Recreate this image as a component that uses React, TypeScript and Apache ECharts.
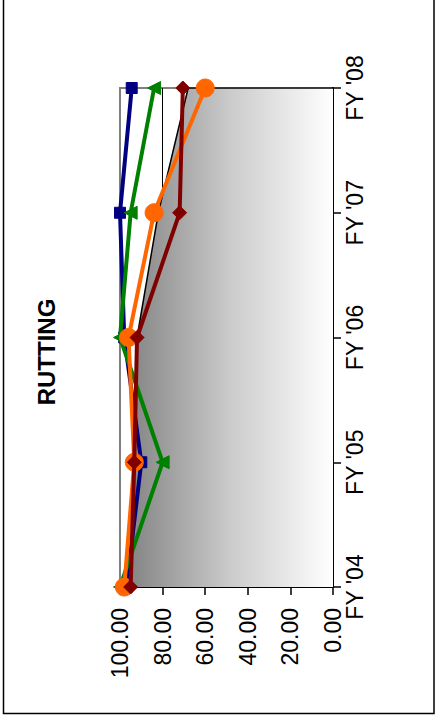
import React, { useEffect, useRef } from "react";
import * as echarts from "echarts";

const categories = ["FY '04", "FY '05", "FY '06", "FY '07", "FY '08"];
const blueValues = [97, 90, 98, 100, 94.5];
const greenValues = [100, 80, 100, 95, 84];
const orangeValues = [98, 93.3, 96, 84, 60];
const darkRedValues = [95, 93.3, 92, 72, 70.5];
const areaValues = [95, 93.5, 92, 82, 68];
const valueTicks = [0, 20, 40, 60, 80, 100];

const FONT = "'Liberation Sans', Arial, sans-serif";

export default function App() {
  const ref = useRef<HTMLDivElement>(null);
  useEffect(() => {
    if (!ref.current) return;
    const chart = echarts.init(ref.current, null, { renderer: "svg" });
    const lastCat = categories[categories.length - 1];
    const lastArea = areaValues[areaValues.length - 1];
    chart.setOption({
      animation: false,
      backgroundColor: "#ffffff",
      grid: {
        left: 120,
        right: 104,
        top: 88,
        bottom: 132,
        show: true,
        borderColor: "#808080",
        borderWidth: 2,
        backgroundColor: "transparent",
      },
      xAxis: {
        type: "value",
        min: valueTicks[0],
        max: valueTicks[valueTicks.length - 1],
        interval: 20,
        inverse: true,
        position: "bottom",
        axisLine: { show: true, onZero: false, lineStyle: { color: "#000", width: 2 } },
        axisTick: { show: true, length: 8, lineStyle: { color: "#000", width: 1.5 } },
        splitLine: {
          show: true,
          lineStyle: { color: ["#000", "#000", "#000", "#000", "#000", "#808080"], width: 1 },
        },
        axisLabel: {
          rotate: 90,
          margin: 21,
          fontSize: 23,
          fontFamily: FONT,
          color: "#000",
          formatter: (v: number) => v.toFixed(2),
        },
      },
      yAxis: {
        type: "category",
        data: categories,
        boundaryGap: false,
        position: "right",
        axisLine: { show: true, onZero: false, lineStyle: { color: "#000", width: 2 } },
        axisTick: { show: true, length: 8, alignWithLabel: true, lineStyle: { color: "#000", width: 1.5 } },
        splitLine: { show: false },
        axisLabel: {
          rotate: 90,
          margin: 10,
          fontSize: 23,
          fontFamily: FONT,
          color: "#000",
        },
      },
      series: [
        {
          name: "Area",
          type: "line",
          data: areaValues,
          symbol: "none",
          lineStyle: { color: "#000", width: 1.5 },
          areaStyle: {
            opacity: 1,
            color: new echarts.graphic.LinearGradient(0, 0, 1, 0, [
              { offset: 0, color: "#858585" },
              { offset: 0.5, color: "#cccccc" },
              { offset: 1, color: "#ffffff" },
            ]),
          },
          z: 1,
        },
        {
          name: "AreaTop",
          type: "line",
          data: [
            [lastArea, lastCat],
            [0, lastCat],
          ],
          symbol: "none",
          lineStyle: { color: "#000", width: 1.5 },
          z: 1,
        },
        {
          name: "Blue",
          type: "line",
          data: blueValues,
          symbol: "rect",
          symbolSize: 11,
          itemStyle: { color: "#000080", borderColor: "#000080" },
          lineStyle: { color: "#000080", width: 4 },
          z: 3,
        },
        {
          name: "Green",
          type: "line",
          data: greenValues,
          symbol: "triangle",
          symbolSize: 13,
          symbolRotate: 90,
          itemStyle: { color: "#008000", borderColor: "#008000" },
          lineStyle: { color: "#008000", width: 4 },
          z: 4,
        },
        {
          name: "Orange",
          type: "line",
          data: orangeValues,
          symbol: "circle",
          symbolSize: 18,
          itemStyle: { color: "#FF6600", borderColor: "#FF6600" },
          lineStyle: { color: "#FF6600", width: 4 },
          z: 5,
        },
        {
          name: "DarkRed",
          type: "line",
          data: darkRedValues,
          symbol: "diamond",
          symbolSize: [14, 14],
          itemStyle: { color: "#800000", borderColor: "#800000" },
          lineStyle: { color: "#800000", width: 4 },
          z: 6,
        },
      ],
      graphic: [
        {
          type: "rect",
          shape: { x: 3.5, y: -5, width: 430.5, height: 718.5 },
          style: { fill: "none", stroke: "#000", lineWidth: 1.5 },
          silent: true,
          z: 100,
        },
        {
          type: "text",
          x: 46,
          y: 352,
          rotation: Math.PI / 2,
          style: {
            text: "RUTTING",
            font: `bold 24px ${FONT}`,
            fill: "#000",
            textAlign: "center",
            textVerticalAlign: "middle",
          },
        },
      ],
    });
    return () => chart.dispose();
  }, []);
  return (
    <div
      ref={ref}
      style={{ position: "fixed", left: 0, top: 0, width: 437, height: 719, background: "#fff" }}
    />
  );
}
